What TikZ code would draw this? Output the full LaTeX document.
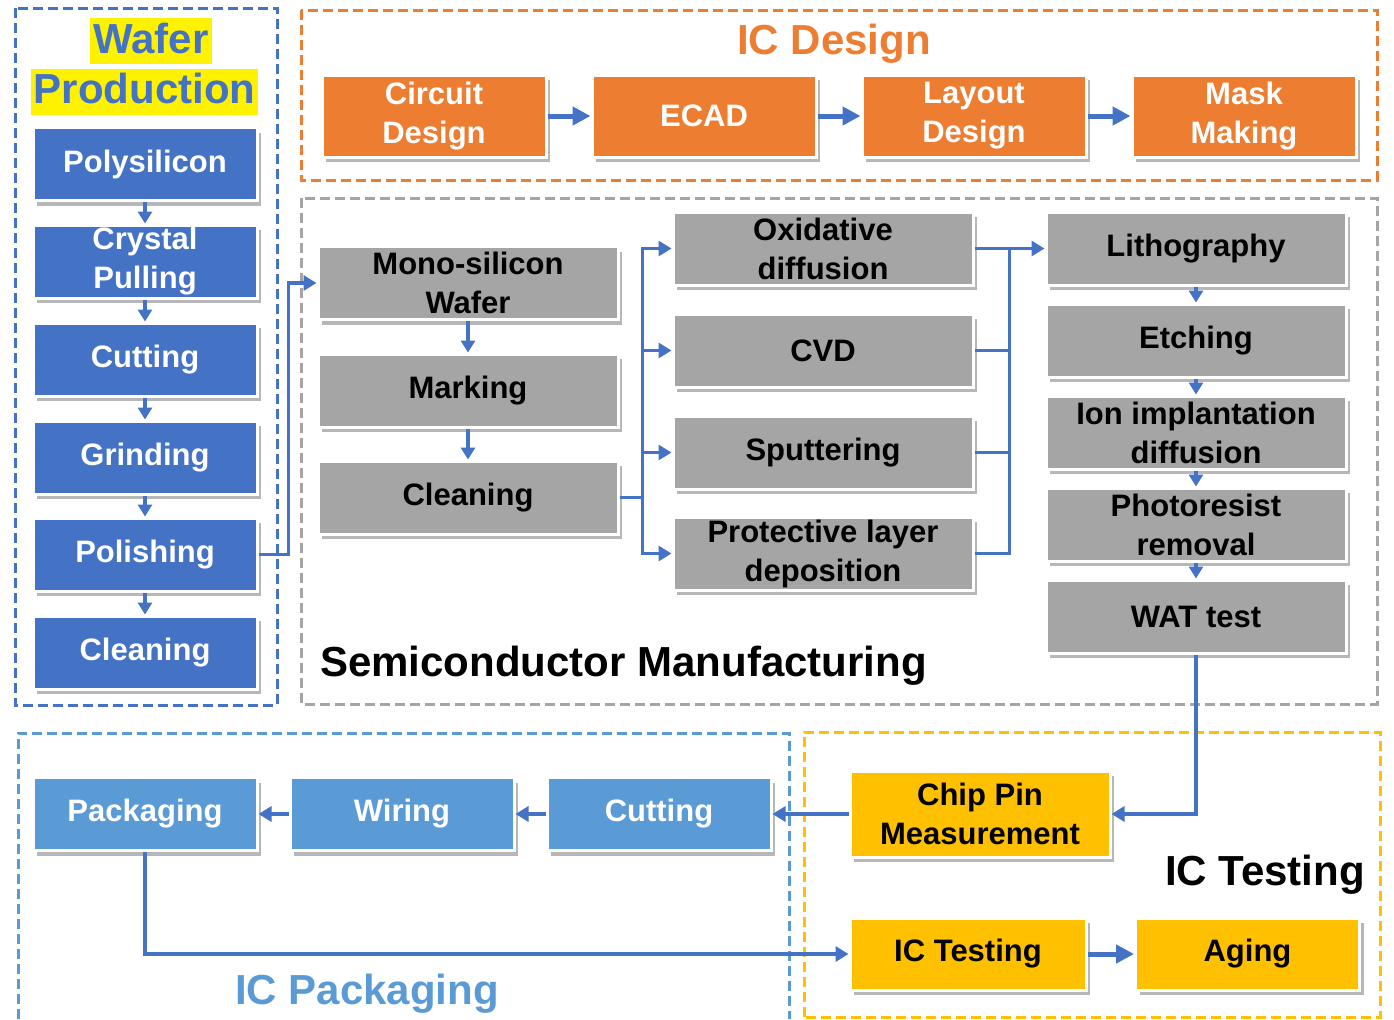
\documentclass[tikz,border=0pt]{standalone}
\usepackage{fontspec}
\setmainfont{Liberation Sans}
\usetikzlibrary{arrows.meta,shadows}
\definecolor{wafblue}{HTML}{4472C4}
\definecolor{desorange}{HTML}{ED7D31}
\definecolor{fabgray}{HTML}{A5A5A5}
\definecolor{pkgblue}{HTML}{5B9BD5}
\definecolor{testgold}{HTML}{FFC000}
\tikzset{
  box/.style={draw=white, line width=1.5pt, minimum width=112pt, minimum height=36.5pt,
    align=center, inner sep=1pt, font=\bfseries\fontsize{15.5}{19.5}\selectfont,
    drop shadow={shadow xshift=2pt, shadow yshift=-2.5pt, opacity=.4, fill=black!70}},
  wafbox/.style={box, fill=wafblue, text=white},
  desbox/.style={box, fill=desorange, text=white, minimum height=41pt},
  fabbox/.style={box, fill=fabgray, text=black, minimum width=150pt},
  pkgbox/.style={box, fill=pkgblue, text=white},
  testbox/.style={box, fill=testgold, text=black},
  frame/.style={line width=1.5pt, dash pattern=on 5pt off 2.5pt},
  title/.style={font=\bfseries\fontsize{21}{25}\selectfont},
  hilite/.style={title, fill=yellow, text=wafblue, inner xsep=1.5pt, inner ysep=1.5pt,
    text height=16pt, text depth=4pt},
  wire/.style={draw=wafblue, line width=1.6pt},
  flow/.style={wire, -{Triangle[length=6.5pt,width=7.5pt]}},
  smallflow/.style={wire, -{Triangle[length=6pt,width=7pt]}},
  bigflow/.style={draw=wafblue, line width=2.5pt, -{Triangle[length=9pt,width=9pt]}},
}
\begin{document}
\begin{tikzpicture}[x=0.5pt,y=-0.5pt]
    \useasboundingbox (0,0) rectangle (1394,1019);
    % ---- frames ----
    \draw[frame, draw=wafblue] (15,8) rectangle (277,705);
    \draw[frame, draw=desorange] (301,10) rectangle (1377,180);
    \draw[frame, draw=fabgray] (301,198) rectangle (1377,704);
    \draw[frame, draw=pkgblue] (18,1019) |- (789,733) -- (789,1019);
    \draw[frame, draw=testgold] (804,1017) rectangle (1380,732);
    % ---- Wafer Production ----
    \node[hilite] (waftitle) at (151,41) {Wafer~};
    \node[hilite] (prodtitle) at (144.5,91.5) {Production};
    \foreach \y/\n/\t in {164/poly/Polysilicon, 261.5/pull/{Crystal\\Pulling},
        359.5/wcut/Cutting, 457.5/grind/Grinding, 554.5/polish/Polishing,
        652.5/wclean/Cleaning} {
        \node[wafbox] (\n) at (145,\y) {\t};
    }
    \foreach \a/\b in {poly/pull, pull/wcut, wcut/grind, grind/polish, polish/wclean} {
        \draw[smallflow] (\a) -- (\b);
    }
    % ---- IC Design ----
    \node[title, text=desorange] (destitle) at (834,44) {IC Design};
    \node[desbox] (circ) at (434,116) {Circuit\\Design};
    \node[desbox] (ecad) at (704,116) {ECAD};
    \node[desbox] (layout) at (974,116) {Layout\\Design};
    \node[desbox] (mask) at (1244,116) {Mask\\Making};
    \draw[bigflow] (circ) -- (ecad);
    \draw[bigflow] (ecad) -- (layout);
    \draw[bigflow] (layout) -- (mask);
    % ---- Semiconductor Manufacturing ----
    \node[title, anchor=west] (fabtitle) at (313,666) {Semiconductor Manufacturing};
    \node[fabbox] (mono) at (468,283) {Mono-silicon\\Wafer};
    \node[fabbox] (mark) at (468,390.5) {Marking};
    \node[fabbox] (sclean) at (468,497.5) {Cleaning};
    \node[fabbox] (oxid) at (823,248.5) {Oxidative\\diffusion};
    \node[fabbox] (cvd) at (823,350.5) {CVD};
    \node[fabbox] (sput) at (823,452.5) {Sputtering};
    \node[fabbox] (prot) at (823,553.5) {Protective layer\\deposition};
    \node[fabbox] (litho) at (1196,248.5) {Lithography};
    \node[fabbox] (etch) at (1196,340.5) {Etching};
    \node[fabbox] (ion) at (1196,432.5) {Ion implantation\\diffusion};
    \node[fabbox] (resist) at (1196,524.5) {Photoresist\\removal};
    \node[fabbox] (wat) at (1196,616.5) {WAT test};
    \draw[flow] (polish.east) -- ++(30,0) |- (mono.west);
    \draw[smallflow] (mono) -- (mark);
    \draw[smallflow] (mark) -- (sclean);
    \draw[wire] (sclean.east) -- ++(23,0) coordinate (sbus);
    \foreach \n in {oxid,cvd,sput,prot} {
        \draw[flow] (sbus) |- (\n.west);
    }
    \draw[flow] (oxid.east) -- (litho.west);
    \path (oxid.east) -- (litho.west) coordinate[pos=.5] (mbus);
    \foreach \n in {cvd,sput,prot} {
        \draw[wire] (\n.east) -| (mbus);
    }
    \foreach \a/\b in {litho/etch, etch/ion, ion/resist, resist/wat} {
        \draw[smallflow] (\a) -- (\b);
    }
    % ---- IC Packaging ----
    \node[title, text=pkgblue] (pkgtitle) at (367,994) {IC Packaging};
    \node[pkgbox] (pack) at (145,814) {Packaging};
    \node[pkgbox] (wire) at (402,814) {Wiring};
    \node[pkgbox] (pcut) at (659,814) {Cutting};
    \draw[flow] (pcut) -- (wire);
    \draw[flow] (wire) -- (pack);
    % ---- IC Testing ----
    \node[title, anchor=east] (testtitle) at (1372,875) {IC Testing};
    \node[testbox, minimum width=130pt, minimum height=43pt] (chip) at (980,814) {Chip Pin\\Measurement};
    \node[testbox, minimum width=118pt, minimum height=36pt] (ictest) at (968,954) {IC Testing};
    \node[testbox, minimum height=36pt] (aging) at (1247.5,954) {Aging};
    \draw[flow] (wat.south) |- (chip.east);
    \draw[flow] (chip) -- (pcut);
    \draw[flow] (pack.south) |- (ictest.west);
    \draw[bigflow] (ictest) -- (aging);
\end{tikzpicture}
\end{document}
